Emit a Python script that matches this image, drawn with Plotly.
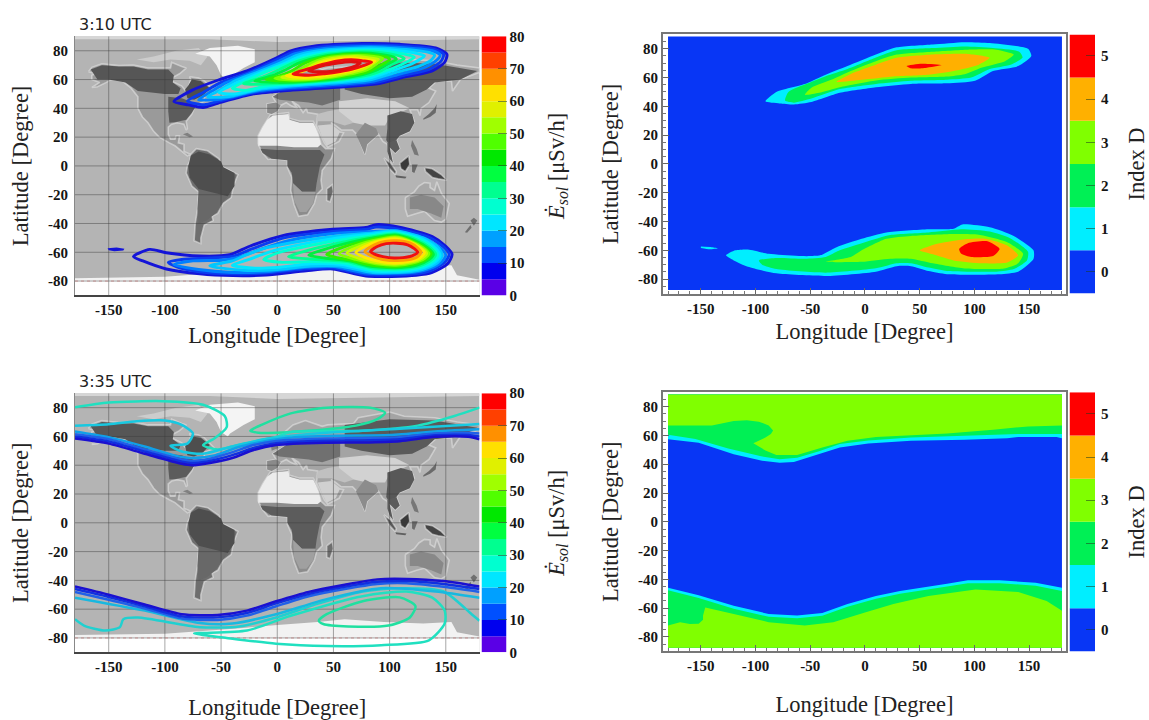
import plotly.graph_objects as go

# ---------- data (lon, lat) ----------
lon_ticks = [-150, -100, -50, 0, 50, 100, 150]
lat_ticks = [-80, -60, -40, -20, 0, 20, 40, 60, 80]
dose_ticks = [0, 10, 20, 30, 40, 50, 60, 70, 80]
index_ticks = [0, 1, 2, 3, 4, 5]
dose_band_edges = [0, 5, 10, 15, 20, 25, 30, 35, 40, 45, 50, 55, 60, 65, 70, 75, 80]

# north lobe at 3:10, levels 10..75
N10 = [(-92,44.7),(-76,52.5),(-53,59.5),(-27,66),(-1,75),(12,80),(31,83),(76,85),(109,84.5),(141,82),(151,77.6),(149,72),(138,66),(115,62),(89,57),(60,55),(12,52.6),(-21,50),(-53,43.5),(-66,40.6),(-79,42.4),(-92,44.7)]
N15 = [(-80,45),(-66,51),(-50,58),(-25,65),(0,74),(14,79),(33,82),(76,84),(108,83.5),(140,81),(148,77.5),(146,73),(135,67),(113,63),(88,58),(60,56),(12,53.6),(-20,51),(-52,45),(-65,42.5),(-80,45)]
N20 = [(-70,46),(-58,52),(-45,58),(-22,65),(2,73),(16,78),(35,81),(76,83),(106,82.5),(138,80),(145,77),(142,73.5),(130,68),(110,64),(86,59),(60,57),(14,54.6),(-18,52),(-50,46.5),(-70,46)]
N25 = [(-62,48),(-50,53),(-38,59),(-18,65),(4,72),(18,77),(37,80),(76,82),(104,81.5),(134,79),(140,77),(137,73.5),(125,69),(106,65),(84,60),(60,58),(16,55.6),(-16,53),(-45,48),(-62,48)]
N30 = [(-52,51),(-35,58),(-14,65),(6,71),(20,76),(39,79),(76,81),(100,80.5),(125,78),(131,76.5),(120,71),(102,66),(82,61),(60,59),(18,56.5),(-14,54),(-38,50),(-52,51)]
N35 = [(-40,54),(-25,60),(-8,66),(8,70.5),(23,75),(41,78.2),(76,80.2),(96,79.5),(117,77),(122,75.5),(112,71),(98,66.5),(80,62),(60,59.8),(20,57.3),(-10,55.5),(-28,52.5),(-40,54)]
N40 = [(-30,57),(-12,62),(2,67),(14,71.5),(26,74.5),(43,77.5),(76,79.3),(94,78.5),(110,76),(113,74.5),(102,70.5),(92,66),(78,62.7),(60,60.5),(24,58),(-6,57),(-30,57)]
N45 = [(-20,59),(-5,62.5),(8,67),(18,71),(29,74),(45,76.8),(74,78.5),(92,77.5),(104,75.5),(106,74),(97,70.5),(88,66.5),(76,63.4),(60,61.2),(28,58.8),(0,58),(-20,59)]
N50 = [(-10,60),(2,62.5),(14,66.5),(22,70.5),(32,73.5),(47,76.2),(72,77.7),(90,76.5),(99,75),(100,74),(92,70),(84,66.5),(74,64),(58,62),(32,59.5),(8,59),(-10,60)]
N55 = [(-2,60.8),(10,63),(20,66.8),(27,70),(35,73),(48,75.5),(70,76.8),(86,76),(94,74.7),(88,70.5),(80,66.8),(70,64.6),(56,62.6),(34,60.3),(14,59.7),(-2,60.8)]
N60 = [(4,61.5),(16,64),(26,67.5),(32,70.2),(38,72.5),(50,74.8),(68,76),(82,75),(90,74),(84,70.5),(76,67),(66,65),(54,63.2),(36,61),(18,60.5),(4,61.5)]
N65 = [(8,62.7),(20,65),(30,68),(40,72),(52,74),(66,75),(78,74),(87,73),(80,70),(72,67.5),(62,65.5),(50,64),(36,62),(20,61.5),(8,62.7)]
N70 = [(14,64),(28,67.5),(40,70.5),(54,73),(66,73.8),(76,73),(84,72),(76,69.5),(66,67),(56,65.5),(42,64),(28,63),(14,64)]
N75 = [(28,66),(40,69.5),(54,71.5),(66,72.3),(74,71.5),(68,69),(58,67),(44,65.5),(28,66)]

# south lobe at 3:10, levels 10..75
S10 = [(-128,-63),(-113.5,-58),(-98.7,-60.3),(-69,-62.6),(-42.4,-61.7),(-24.6,-55.8),(4.8,-48.4),(49.4,-44),(79,-42.8),(88,-40.8),(108.8,-42.6),(138,-49),(150,-55.8),(155.6,-61.4),(151.6,-68),(138,-74),(123.6,-76),(79,-76.6),(49.4,-71.6),(25.8,-72.8),(-9.8,-75.8),(-39.5,-76.2),(-69,-75),(-98.7,-71.6),(-119.6,-66),(-128,-63)]
S15 = [(-97,-67),(-85,-65),(-60,-64),(-38,-62.5),(-22,-57.5),(6,-50),(50,-45.5),(80,-44),(88,-42.5),(108,-44),(136,-50),(149,-57),(153,-61.5),(149,-67),(137,-72.5),(122,-75),(79,-75.5),(50,-71),(26,-71.5),(-10,-74.5),(-40,-75),(-69,-73.5),(-90,-70),(-97,-67)]
S20 = [(-92,-68.5),(-75,-66),(-50,-65.5),(-35,-63.5),(-15,-58),(10,-52),(50,-47),(85,-45.5),(108,-45.5),(133,-51),(146,-57.5),(150,-62),(146,-67),(135,-71.5),(120,-74),(80,-74.5),(50,-70),(26,-70.5),(-10,-73.5),(-40,-74),(-70,-72),(-92,-68.5)]
S25 = [(-60,-69.5),(-40,-66),(-28,-62),(-10,-57),(15,-53),(50,-49),(85,-46.5),(105,-45),(130,-50),(143,-56.5),(147,-62),(143,-67),(133,-71),(118,-73.5),(85,-74),(55,-69.5),(30,-69.5),(0,-72),(-30,-72.5),(-60,-69.5)]
S30 = [(-40,-69),(-25,-65),(-8,-60),(18,-55),(50,-50.5),(85,-47.3),(105,-45.8),(128,-50.5),(140,-56.5),(145,-62),(141,-66.5),(131,-70.5),(116,-72.8),(85,-73),(58,-68.5),(30,-68),(0,-70.5),(-20,-71),(-40,-69)]
S35 = [(-12,-65),(0,-60.5),(22,-56.5),(52,-52),(85,-48.3),(105,-46.5),(126,-51),(138,-56.5),(143,-62),(139,-66),(129,-70),(114,-72),(85,-72),(60,-67.5),(30,-66.5),(5,-67),(-12,-65)]
S40 = [(10,-63),(28,-58.5),(55,-53.5),(85,-49.2),(105,-47.2),(124,-51.3),(136,-56.8),(141,-61.5),(137,-65.5),(127,-69.3),(112,-71.3),(85,-71),(62,-66.5),(35,-65),(10,-63)]
S45 = [(28,-62),(40,-58.5),(58,-54.5),(85,-50),(105,-48),(122,-51.7),(134,-57),(139,-61.5),(135,-65),(125,-68.7),(110,-70.6),(85,-70),(64,-66),(42,-64),(28,-62)]
S50 = [(44,-61.5),(60,-56),(85,-51),(105,-48.6),(120,-52),(132,-57),(137,-61),(133,-64.7),(123,-68),(108,-69.9),(85,-69),(66,-65.5),(52,-63.5),(44,-61.5)]
S55 = [(55,-61),(66,-56.5),(85,-52),(105,-49.3),(118,-52),(130,-57),(135,-60.8),(131,-64.3),(121,-67.3),(106,-69),(88,-68),(70,-65),(55,-61)]
S60 = [(62,-60.5),(70,-57),(87,-52.5),(105,-50),(118,-52.5),(128,-57),(133,-60.5),(129,-64),(120,-66.7),(105,-68.2),(90,-67.3),(74,-64.5),(62,-60.5)]
S65 = [(70,-60),(78,-56),(90,-52.5),(105,-50.7),(118,-53),(127,-57),(131,-60.3),(127,-63.8),(118,-66.2),(105,-67.4),(92,-66.5),(78,-63.5),(70,-60)]
S70 = [(78,-59.5),(86,-55),(96,-52.5),(106,-52),(118,-53.5),(125,-57),(128,-60),(124,-63.5),(116,-65.3),(105,-65.8),(94,-65),(84,-62.5),(78,-59.5)]
S75 = [(83,-59.5),(89,-56),(97,-54),(106,-53.7),(116,-54.8),(122,-57.5),(125,-60),(120,-62.5),(112,-63.7),(104,-64),(94,-63),(87,-61.5),(83,-59.5)]
SPOT = [(-151,-57.2),(-143,-56.6),(-136,-57.5),(-137,-58.8),(-145,-59.2),(-150,-58.6),(-151,-57.2)]

# contours at 3:35 (bottom-left)
B_N1 = [(-180,58.5),(-150,55),(-118,48),(-85,41),(-76,40),(-60,41.6),(-40,45),(-21,50.6),(-1,54),(44,55.6),(76,55.8),(109,56.7),(141,59.7),(170,59.7),(180,58)]
B_N2 = [(-180,60),(-150,56.5),(-118,49.5),(-85,42.5),(-76,41.5),(-60,43),(-40,47),(-21,52),(-1,55.3),(44,57),(76,57.2),(109,58),(141,60.8),(170,61),(180,60)]
B_N3 = [(-180,61.5),(-150,58),(-118,51),(-85,44),(-76,43),(-60,44.5),(-40,49),(-21,54),(-1,56.8),(44,58.5),(76,58.8),(109,59.5),(141,62),(170,62.5),(180,62)]
B_N4 = [(-180,63.5),(-150,59.5),(-118,53),(-90,46.5),(-75,45),(-55,47),(-35,52.5),(-15,56),(10,59),(50,60.5),(100,61),(150,64),(180,65)]
B_N5 = [(-180,67.5),(-150,68.5),(-125,70.5),(-100,71),(-85,68),(-75,62),(-80,55),(-95,53.5),(-85,49.5),(-66,48),(-40,53),(-8,58.5),(44,62.6),(109,65.4),(180,68.7)]
B_N6 = [(-180,80.2),(-150,83.5),(-101.6,84.5),(-66,82),(-46.6,74),(-45,66.4),(-56,58.5),(-66,54),(-53,51),(-30,55),(-1,59.6),(12,63),(76,64),(125,67.5),(157,74),(180,80)]
B_N7 = [(-24,64),(-14,68),(12,76),(44,80),(83,80),(96,76.5),(89,72),(70,67.5),(28,64),(-17,62.6),(-24,64)]
B_S1 = [(-180,-44.3),(-150,-50),(-118,-56.7),(-85,-63.5),(-53,-64),(-27,-61),(-1,-54.5),(28,-48),(60,-43),(89,-39.3),(115,-39),(148,-40.5),(180,-44.3)]
B_S2 = [(-180,-46),(-150,-51.5),(-118,-58),(-85,-65),(-53,-65.7),(-27,-62.7),(-1,-56),(28,-49.5),(60,-44.5),(89,-41),(115,-40.5),(148,-42.5),(180,-46)]
B_S3 = [(-180,-48),(-150,-53.5),(-118,-59.5),(-85,-66.5),(-53,-67.5),(-27,-64.5),(-1,-58),(28,-51),(60,-46),(89,-42.5),(115,-42),(148,-44.5),(180,-48)]
B_S4 = [(-180,-52),(-118,-61),(-69,-69.6),(-40,-70),(-1,-63.5),(44,-53),(92,-45.4),(141,-47.7),(180,-52)]
B_S5 = [(-180,-67),(-172,-71.4),(-153,-74.8),(-140,-72.5),(-137,-67),(-124,-65.8),(-69,-72.5),(-34,-72),(-1,-65.8),(34,-56.7),(76,-47.7),(109,-45.4),(148,-47.7),(173,-63.5),(180,-68)]
B_S6 = [(-74,-77),(-45,-80),(-1,-84),(44,-85.6),(92.5,-85),(135,-81.6),(149,-70),(149,-61),(138,-52),(115,-47.7),(76,-51),(12,-64.6),(-27,-74.8),(-74,-77)]
B_S7 = [(37,-68),(44,-63.5),(76,-54.5),(109,-51.8),(123,-57.8),(118,-65.8),(99,-71.4),(63,-72),(41,-70.3),(37,-68)]

# index D regions at 3:10 (top-right)
T_FRAME = [(-180,-87.5),(-180,88.5),(180,88.5),(180,-87.5),(-180,-87.5)]
TN1 = [(-91,43.5),(-81,50),(-55,55.5),(-39,61),(-16,68),(10,76),(29,81),(62,83),(91,84.6),(114,84),(149,80),(152,75),(140,68),(117,64.6),(100.6,57.8),(75,56),(42,55.6),(10,53.3),(-23,49.4),(-49,43),(-65,41.3),(-78,42)]
TN2 = [(-73,44),(-70,50),(-52,56),(-36,61),(-16,66),(10,74),(29,79),(62,80.5),(91,81.6),(117,80.5),(141,78),(144,74),(133,69),(114,66),(97,60),(75,58.5),(42,57.8),(10,55.6),(-23,52),(-49,45.4),(-65,42.6)]
TN3 = [(-55,48),(-49,53),(-29,59),(-13,64.6),(10,71.4),(29,76),(62,78),(94,79.4),(120,79.4),(136,76),(128,71.4),(107,67),(91,62.4),(75,60.8),(42,60),(10,58),(-23,53.3),(-42,49.4)]
TN4 = [(-26,57),(-10,63.5),(10,69),(29,73.7),(62,76),(94,76.4),(114,73.7),(104,69),(81,64.6),(58,62),(26,60.8),(-3,58.5)]
TN5 = [(38,68),(52,69.6),(70,68.7),(55,66.7),(42,66.4)]
TS1 = [(-127,-63.5),(-118.5,-60),(-107,-59.4),(-88,-62.4),(-58,-64),(-41,-63.5),(-26,-57.8),(-3,-52),(19.5,-47.6),(58,-45.4),(81,-45),(89,-42),(114,-44),(136,-50),(154,-60),(154,-66),(140,-74.8),(123,-76.6),(75,-76.6),(58,-74.4),(42,-71),(29,-71),(10,-74.8),(-36,-77.8),(-81,-76),(-107,-71.4),(-120,-67)]
TS2 = [(-97,-67),(-81,-65.3),(-55,-65.8),(-36,-64.6),(-23,-60),(0,-54.4),(23,-49.4),(58,-47.6),(88,-45.4),(114,-47),(133,-51.7),(149,-61),(148,-67),(136,-73),(120,-74.8),(75,-74.4),(58,-72),(42,-69),(29,-69),(10,-72.5),(-36,-75.5),(-81,-73),(-94,-70)]
TS3 = [(-36,-68),(-13,-64.6),(-3,-60),(19.5,-52),(42,-50),(75,-48.8),(104,-49.2),(130,-54.4),(144.5,-62.4),(140,-69),(127,-72.6),(91,-72.6),(62,-69),(42,-65.8),(23,-65.8),(-3,-68)]
TS4 = [(50,-60),(65,-55.6),(88,-52.6),(110,-52),(130,-56.7),(140,-63.5),(130,-68.5),(107,-69),(81,-67),(62,-62.8)]
TS5 = [(86,-59),(94,-55),(112,-53.7),(123,-59),(117,-64),(97,-64.6),(88,-62.4)]
TSPOT = [(-150,-57.4),(-140,-57.8),(-134,-58.6),(-142,-59.3),(-150,-58.4)]

# index D regions at 3:35 (bottom-right)
BN1 = [(-180,88.5),(-180,57.4),(-152,55),(-120,47),(-94,42.5),(-78,41),(-65,41.5),(-42,47),(-23,51.7),(3,54.4),(42,56.3),(91,57),(130,58),(140,59),(175,59),(180,58),(180,88.5)]
BN2 = [(-180,88.5),(-180,60.5),(-155,57.5),(-125,51),(-95,45.5),(-78,43.5),(-62,44.5),(-42,49),(-23,54),(3,56.5),(42,58.5),(91,59.5),(140,61),(180,61),(180,88.5)]
BN3 = [(-180,88.5),(-180,67),(-140,67),(-120,70),(-108,70.5),(-97,69.6),(-88,67),(-84,63.5),(-86,61),(-91,58.6),(-102,54.5),(-91,49.6),(-81,46.5),(-62,46.5),(-39,51.7),(-16,56.3),(10,59),(75,61.4),(117,64),(149,66.3),(180,67),(180,88.5)]
BS1 = [(-180,-87.5),(-180,-45.8),(-152,-51),(-120,-58.3),(-88,-64),(-62,-65),(-39,-63.3),(-16,-57),(10,-51.5),(32,-48),(75,-43),(94,-40.6),(123,-40.6),(156,-42.4),(180,-45.8),(180,-87.5)]
BS2 = [(-180,-87.5),(-180,-47.5),(-152,-53),(-120,-60.3),(-88,-66),(-62,-67),(-39,-65.3),(-16,-59),(10,-53.5),(32,-50),(75,-45),(94,-42.6),(123,-42.6),(156,-44.4),(180,-48),(180,-87.5)]
BS3 = [(-180,-87.5),(-180,-72),(-169,-69.7),(-160,-71),(-152,-70.8),(-148,-68),(-148,-65),(-147,-62),(-146,-59.5),(-120,-64),(-88,-69.7),(-55,-72),(-29,-69.7),(0,-63),(26,-57),(58,-51.5),(101,-47),(140,-48.8),(166,-55),(180,-61.7),(180,-87.5)]

# map background shapes
OCEAN = [(-180,-90),(-180,90),(180,90),(180,-90),(-180,-90)]
ARCTIC = [(-180,88),(-60,88),(0,86),(180,88),(180,90),(-180,90),(-180,88)]
NAMER = [(-168,65.5),(-165,68.5),(-156,71),(-141,69.7),(-128,70),(-115,68),(-95,68),(-94,72),(-85,69),(-81,68),(-87,64),(-94,61),(-93,58.5),(-85,55.5),(-82,52.5),(-79,51.5),(-79,55),(-77,60),(-78,62),(-70,61),(-65,59),(-60,55),(-56,52),(-65,49),(-65,45),(-70,43),(-74,40),(-76,36),(-81,31),(-80,26),(-81,25),(-83,29),(-89,30),(-94,29),(-97,27),(-97,22),(-95,18.5),(-91,18.5),(-90,21),(-87,21),(-88,16),(-83,15),(-83,10),(-80,9),(-77,8),(-80,7),(-85,10),(-91,14),(-96,16),(-105,20),(-110,24),(-115,30),(-120,34),(-124,40),(-124,48),(-130,54),(-138,59),(-148,60),(-152,58),(-160,55),(-165,54.5),(-158,58),(-165,60),(-165,63),(-161,64),(-168,65.5)]
ARCHIPELAGO = [(-125,74),(-110,76),(-90,80),(-70,82),(-62,76),(-68,70),(-78,73),(-95,74),(-110,72),(-125,74)]
CANADA = [(-166,67),(-156,70),(-141,69),(-128,69),(-115,67),(-97,67),(-92,63),(-93,58),(-86,54),(-88,50),(-100,50),(-115,51),(-124,52),(-135,58),(-150,60),(-160,60),(-166,67)]
QUEBEC = [(-82,53),(-79,56),(-76,60),(-68,59),(-60,54),(-66,49),(-74,46),(-80,47),(-82,53)]
EASTUS = [(-97,48),(-85,47),(-75,44),(-72,42),(-76,37),(-81,32),(-90,30.5),(-96,30),(-97,38),(-97,48)]
GREENLAND = [(-73,78),(-60,82),(-35,83.5),(-20,81),(-20,72),(-30,68),(-42,62),(-44,60),(-50,63),(-54,70),(-60,76),(-73,78)]
CUBA = [(-84,22),(-80,23),(-75,20.5),(-78,20),(-84,22)]
SAMER = [(-77,8),(-72,12),(-62,10.5),(-52,5),(-50,0),(-44,-2.5),(-35,-6),(-39,-14),(-41,-22),(-48,-26),(-53,-33),(-58,-35),(-57,-38),(-65,-41),(-68,-50),(-68,-54),(-74,-52),(-73,-40),(-71,-30),(-70,-18),(-76,-14),(-81,-5),(-80,0),(-78,3),(-77,8)]
AMAZON = [(-77,7),(-70,10),(-60,8),(-50,3),(-48,-1),(-38,-5),(-38,-14),(-44,-21),(-55,-25),(-63,-22),(-70,-16),(-78,-8),(-79,0),(-77,7)]
PARANA = [(-70,-16),(-44,-21),(-50,-27),(-55,-33),(-63,-38),(-70,-40),(-71,-30),(-70,-16)]
AFRICA = [(-17,15),(-17,21),(-13,27),(-9,32),(-6,35.5),(10,37),(11,33),(20,31),(32,31),(34,28),(37,21),(39,15),(43,12),(51,12),(48,5),(40,-3),(39,-10),(40,-16),(35,-20),(33,-26),(27,-34),(19,-35),(15,-27),(12,-17),(13,-8),(9,-1),(9,4),(-4,5),(-8,4.5),(-13,9),(-17,15)]
SAHARA = [(-17,14),(-17,21),(-13,27),(-9,32),(-4,35),(10,36),(11,32),(20,30),(32,30),(34,27),(37,21),(39,15),(36,13),(15,13),(0,14),(-17,14)]
CONGO = [(-15,12),(0,11),(15,11),(38,11),(42,8),(38,0),(35,-12),(34,-18),(22,-18),(14,-12),(13,-5),(9,0),(9,4),(-5,5),(-13,9),(-15,12)]
ZAMBEZI = [(14,-12),(22,-18),(34,-18),(32,-26),(26,-32),(20,-32),(15,-24),(14,-12)]
EURASIA = [(-9,37),(-9,43),(-1,44),(-4,48),(2,51),(8,54),(8,57),(5,59),(5,62),(14,68),(25,71),(40,67),(45,68),(68,69),(72,73),(100,77),(113,74),(140,73),(160,70),(180,68),(180,65),(163,60),(156,52),(155,59),(142,59),(135,54),(141,52),(135,44),(128,40),(127,35),(125,39),(118,39),(122,31),(118,24),(109,21),(106,18),(109,12),(105,9),(100,13),(103,2),(100,5),(98,15),(94,17),(90,22),(80,15),(78,8),(73,18),(72,21),(67,25),(57,25),(52,28),(48,30),(52,24),(59,23),(55,17),(45,13),(42,16),(35,28),(36,36),(27,37),(26,40),(23,37),(19,42),(13,45),(18,40),(12,42),(8,44),(3,42),(0,38),(-5,36),(-9,37)]
SIBERIA = [(60,68),(100,72),(140,71),(178,66),(163,60),(140,58),(133,53),(120,48),(100,47),(75,50),(60,53),(60,68)]
EUROPE = [(-4,48),(8,54),(30,58),(56,58),(56,46),(40,42),(28,44),(15,45),(2,46),(-4,48)]
IBERIA = [(-9,37),(-9,43),(-1,44),(3,42),(0,38),(-5,36),(-9,37)]
UK = [(-5,50),(1,52),(-2,58),(-6,57),(-5,50)]
ARABIA = [(36,28),(48,29),(56,24),(52,17),(44,14),(40,20),(36,28)]
IRAN = [(35,31),(48,31),(60,28),(68,30),(70,36),(60,40),(45,38),(36,36),(35,31)]
STEPPE = [(55,45),(80,47),(105,45),(118,40),(100,34),(96,28),(80,28),(68,30),(55,38),(55,45)]
CHINA = [(98,35),(110,38),(120,36),(122,30),(118,24),(109,21),(106,18),(100,14),(97,18),(98,26),(98,35)]
INDIA = [(70,22),(78,30),(88,26),(90,22),(80,15),(78,8),(74,15),(70,22)]
INDOCHINA = [(98,16),(106,18),(109,12),(105,9),(100,13),(103,2),(100,5),(98,10),(98,16)]
JAPAN = [(130,32),(136,34),(141,37),(142,43),(140,40),(135,36),(130,33),(130,32)]
PHILIPPINES = [(120,18),(124,12),(126,7),(122,8),(119,14),(120,18)]
BORNEO = [(109,2),(114,5),(117,7),(118,1),(114,-4),(110,-2),(109,2)]
SUMATRA = [(95,5.5),(101,2),(106,-4),(105,-6),(100,-2),(95,5.5)]
JAVA = [(105,-6.5),(115,-7.5),(114,-8.7),(106,-8),(105,-6.5)]
SULAWESI = [(120,1),(125,1),(122,-5),(120,-4),(120,1)]
GUINEA = [(131,-1),(138,-2),(146,-6),(151,-10),(143,-9),(138,-8),(132,-4),(131,-1)]
AUSTRALIA = [(114,-22),(122,-18),(126,-14),(131,-11.5),(136,-12),(136,-15),(140,-17),(142,-11),(146,-19),(153,-26),(150,-37),(146,-39),(140,-38),(136,-35),(131,-31.5),(124,-33),(116,-35),(114,-30),(114,-22)]
OUTBACK = [(118,-22),(128,-20),(140,-22),(148,-28),(146,-36),(137,-33),(125,-30),(118,-30),(118,-22)]
MADAGASCAR = [(44,-16),(49,-13),(50,-18),(47,-25),(44,-24),(44,-16)]
NZ_N = [(172,-38),(175,-36),(178,-38),(175,-41.5),(172,-38)]
NZ_S = [(167,-46),(172,-41),(173,-43),(169,-46.5),(167,-46)]
ANTARCTICA = [(-180,-90),(-180,-78),(-100,-77),(-60,-75),(-30,-73),(0,-71),(36,-69),(60,-67),(95,-69),(130,-70),(155,-69),(160,-76),(180,-79),(180,-90),(-180,-90)]
SOUTH_STRIP = [(-180,-90),(-180,-80),(180,-80),(180,-90),(-180,-90)]
DOTTED = [(-180,-80),(180,-80)]

# ---------- styles ----------
DOSE_COLORS = ['#5a00e6','#0000ee','#0050ff','#00a0ff','#00e6ff','#00ffd0','#00ff90','#00ff40',
               '#00e800','#50ff00','#a0ff00','#e0f000','#ffe000','#ff9000','#ff4000','#ff0000']
INDEX_COLORS = ['#0836f5','#00eeff','#00f055','#80ff00','#ffb000','#ff0000']
LEVEL_COLORS = ['#1414d8','#0a3cf0','#0080ff','#00c8ff','#00e6ff','#00ffd0','#00ff90','#00f040',
                '#30f000','#80ff00','#c8f800','#ffe800','#ffa000','#ff5000']
N_LEVELS = [N10,N15,N20,N25,N30,N35,N40,N45,N50,N55,N60,N65,N70,N75]
S_LEVELS = [S10,S15,S20,S25,S30,S35,S40,S45,S50,S55,S60,S65,S70,S75]
S_COLORS = LEVEL_COLORS[:13] + ['#f01010']
N_COLORS = LEVEL_COLORS[:12] + ['#f01010', '#e01010']

COAST = 'rgba(226,226,226,0.6)'
LAND = [(NAMER,'#9a9a9a',COAST),(ARCHIPELAGO,'#cccccc',None),(CANADA,'#565656',None),(QUEBEC,'#4e4e4e',None),(EASTUS,'#5c5c5c',None),(GREENLAND,'#f4f4f4',None),(CUBA,'#808080',None),
        (SAMER,'#6e6e6e',COAST),(AMAZON,'#4e4e4e',None),(PARANA,'#686868',None),
        (AFRICA,'#8c8c8c',COAST),(SAHARA,'#ececec',None),(CONGO,'#5c5c5c',None),(ZAMBEZI,'#a0a0a0',None),
        (EURASIA,'#a4a4a4',COAST),(EUROPE,'#707070',None),(IBERIA,'#8a8a8a',None),(UK,'#808080',None),(SIBERIA,'#5a5a5a',None),(ARABIA,'#d0d0d0',None),(IRAN,'#c0c0c0',None),(STEPPE,'#d2d2d2',None),
        (CHINA,'#585858',None),(INDIA,'#8c8c8c',None),(INDOCHINA,'#5c5c5c',None),(JAPAN,'#6a6a6a',None),(PHILIPPINES,'#777777',None),
        (BORNEO,'#3a3a3a',COAST),(SUMATRA,'#5a5a5a',COAST),(JAVA,'#606060',None),(SULAWESI,'#6a6a6a',None),(GUINEA,'#444444',COAST),
        (AUSTRALIA,'#a8a8a8',COAST),(OUTBACK,'#888888',None),(MADAGASCAR,'#6e6e6e',COAST),(NZ_N,'#707070',None),(NZ_S,'#707070',None),
        (ANTARCTICA,'#f2f2f2',None),(SOUTH_STRIP,'#ffffff',None),(ARCTIC,'#d6d6d6',None)]

W, H = 1149, 720
SERIF = 'Liberation Serif'
def dx(a, b): return [a / W, b / W]
def dy(top, bottom): return [1 - bottom / H, 1 - top / H]

fig = go.Figure()

def unzip(pts):
    return [p[0] for p in pts], [p[1] for p in pts]

def poly(pts, color, ax, outline=None, spline=False):
    x, y = unzip(pts)
    fig.add_trace(go.Scatter(x=x, y=y, mode='lines', fill='toself', fillcolor=color,
                             line=dict(width=1.6 if outline else 0, color=outline or color,
                                       shape='spline' if spline else 'linear', smoothing=0.6),
                             xaxis='x' + ax, yaxis='y' + ax, hoverinfo='skip', showlegend=False))

def line(pts, color, ax, width=2.9, dash=None, spline=True):
    x, y = unzip(pts)
    fig.add_trace(go.Scatter(x=x, y=y, mode='lines',
                             line=dict(width=width, color=color, dash=dash, shape='spline' if spline else 'linear', smoothing=0.7),
                             xaxis='x' + ax, yaxis='y' + ax, hoverinfo='skip', showlegend=False))

def base_map(ax):
    poly(OCEAN, '#b4b4b4', ax)
    for pts, c, o in LAND:
        poly(pts, c, ax, o)
    for v in lon_ticks:
        line([(v, -90), (v, 90)], 'rgba(60,60,60,0.45)', ax, 1, spline=False)
    for v in lat_ticks:
        line([(-180, v), (180, v)], 'rgba(60,60,60,0.45)', ax, 1, spline=False)
    line(DOTTED, 'rgba(190,130,130,0.8)', ax, 1, 'dot', spline=False)

# panel 1: map + lobes
base_map('')
for pts, c in zip(N_LEVELS, N_COLORS):
    line(pts, c, '')
for pts, c in zip(S_LEVELS, S_COLORS):
    line(pts, c, '')
poly(SPOT, '#1414d8', '')

# panel 2: index D at 3:10
poly(T_FRAME, INDEX_COLORS[0], '2')
for group in ([TN1, TN2, TN3, TN4, TN5], [TS1, TS2, TS3, TS4, TS5]):
    for i, pts in enumerate(group):
        poly(pts + pts[:1], INDEX_COLORS[i + 1], '2', spline=True)
poly(TSPOT, INDEX_COLORS[1], '2', spline=True)

# panel 3: map + 3:35 contours
base_map('3')
for pts, c in [(B_N7, '#20e0a0'), (B_N6, '#20e0c0'), (B_N5, '#18c8e0'), (B_N4, '#10a0e8'), (B_N3, '#2060e8'), (B_N2, '#1030e0'), (B_N1, '#1a10d0'),
               (B_S7, '#20e0a0'), (B_S6, '#20e0c0'), (B_S5, '#20d0d0'), (B_S4, '#18b8e0'), (B_S3, '#2060e8'), (B_S2, '#1030e0'), (B_S1, '#1a10d0')]:
    line(pts, c, '3', 2.5)

# panel 4: index D at 3:35
poly(T_FRAME, INDEX_COLORS[0], '4')
for pts, c in [(BN1, 1), (BN2, 2), (BN3, 3), (BS1, 1), (BS2, 2), (BS3, 3)]:
    poly(pts, INDEX_COLORS[c], '4')

# colourbars
def dose_bar(ax):
    lows = dose_band_edges[:-1]
    widths = [b - a for a, b in zip(lows, dose_band_edges[1:])]
    fig.add_trace(go.Bar(x=[1] * len(lows), y=widths, base=lows, width=1, marker=dict(color=DOSE_COLORS, line=dict(width=0)),
                         xaxis='x' + ax, yaxis='y' + ax, hoverinfo='skip', showlegend=False))

def index_bar(ax):
    lows = [v - 0.5 for v in index_ticks]
    fig.add_trace(go.Bar(x=[1] * len(lows), y=[1] * len(lows), base=lows, width=1, marker=dict(color=INDEX_COLORS, line=dict(width=0)),
                         xaxis='x' + ax, yaxis='y' + ax, hoverinfo='skip', showlegend=False))

dose_bar('5'); index_bar('6'); dose_bar('7'); index_bar('8')

TICK = dict(family=SERIF, size=15, color='#151515', weight=700)
TITLE = dict(family=SERIF, size=22.5, color='#222222')
lon_labels = [str(v) for v in lon_ticks]
lat_labels = [str(v) for v in lat_ticks]

def lon_axis(anchor, dom, rng, framed, standoff):
    d = dict(domain=dom, range=rng, anchor=anchor, tickmode='array', tickvals=lon_ticks, ticktext=lon_labels,
             tickfont=TICK, showgrid=False, zeroline=False, title=dict(text='Longitude [Degree]', font=TITLE, standoff=standoff),
             showline=True, linecolor='#444444' if not framed else '#777777', linewidth=2)
    if framed:
        d.update(mirror=True, ticks='inside', ticklen=6, tickcolor='#666666',
                 minor=dict(ticks='inside', dtick=10, tick0=0, ticklen=3, tickcolor='#777777'))
    else:
        d.update(ticks='')
    return d

def lat_axis(anchor, dom, framed):
    d = dict(domain=dom, range=[-90, 90], anchor=anchor, tickmode='array', tickvals=lat_ticks, ticktext=lat_labels,
             tickfont=TICK, showgrid=False, zeroline=False)
    if framed:
        d.update(mirror=True, showline=True, linecolor='#777777', linewidth=2, ticks='inside', ticklen=6, tickcolor='#666666',
                 minor=dict(ticks='inside', dtick=5, tick0=0, ticklen=3, tickcolor='#777777'),
                 title=dict(text='Latitude [Degree]', font=TITLE, standoff=13))
    else:
        d.update(showline=True, linecolor='#888888', linewidth=1, ticks='outside', ticklen=3, tickcolor='rgba(0,0,0,0)',
                 title=dict(text='Latitude [Degree]', font=TITLE, standoff=13))
    return d

def bar_x(anchor, dom):
    return dict(domain=dom, range=[0.5, 1.5], anchor=anchor, showticklabels=False, ticks='', showline=False, showgrid=False, zeroline=False)

def bar_y(anchor, dom, rng, vals, title, standoff, gap):
    return dict(domain=dom, range=rng, anchor=anchor, side='right', tickmode='array', tickvals=vals, ticktext=[str(v) for v in vals],
                tickfont=TICK, showgrid=False, zeroline=False, showline=False, ticks='inside', ticklen=9, ticklabelstandoff=gap,
                tickcolor='rgba(30,60,30,0.55)', title=dict(text=title, font=TITLE, standoff=standoff))

DOSE_TITLE = '<i>Ė<sub>sol</sub></i> [μSv/h]'
UTC = dict(family='DejaVu Sans', size=16, color='#222222')
fig.update_layout(
    width=W, height=H, margin=dict(l=0, r=0, t=0, b=0), paper_bgcolor='white', plot_bgcolor='white', showlegend=False, barmode='overlay',
    xaxis=lon_axis('y', dx(75, 479.5), [-180, 180], False, 10), yaxis=lat_axis('x', dy(29, 294), False),
    xaxis2=lon_axis('y2', dx(663, 1066), [-184.6, 183.7], True, 8), yaxis2=lat_axis('x2', dy(27, 292), True),
    xaxis3=lon_axis('y3', dx(75, 479.5), [-180, 180], False, 27), yaxis3=lat_axis('x3', dy(394, 659), False),
    xaxis4=lon_axis('y4', dx(663, 1066), [-184.6, 183.7], True, 23), yaxis4=lat_axis('x4', dy(393, 658), True),
    xaxis5=bar_x('y5', dx(481.5, 506.5)), yaxis5=bar_y('x5', dy(29, 294), [0, 80], dose_ticks, DOSE_TITLE, 24, 2),
    xaxis6=bar_x('y6', dx(1069.5, 1095)), yaxis6=bar_y('x6', dy(27, 292), [-0.5, 5.5], index_ticks, 'Index D', 24, 5),
    xaxis7=bar_x('y7', dx(481.5, 506.5)), yaxis7=bar_y('x7', dy(394, 659), [0, 80], dose_ticks, DOSE_TITLE, 24, 2),
    xaxis8=bar_x('y8', dx(1069.5, 1095)), yaxis8=bar_y('x8', dy(393, 658), [-0.5, 5.5], index_ticks, 'Index D', 24, 5),
    annotations=[
        dict(text='3:10 UTC', x=77 / W, y=1 - 17 / H, xref='paper', yref='paper', xanchor='left', yanchor='middle', showarrow=False, font=UTC),
        dict(text='3:35 UTC', x=77 / W, y=1 - 382 / H, xref='paper', yref='paper', xanchor='left', yanchor='middle', showarrow=False, font=UTC),
    ],
)
fig.write_html("out.html", config={'displayModeBar': False},
               post_script="document.body.style.margin='0';document.body.style.overflow='hidden';")
